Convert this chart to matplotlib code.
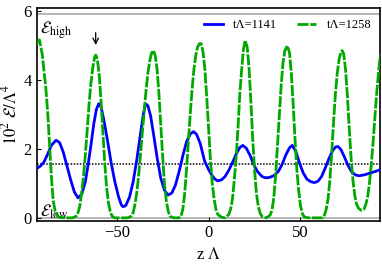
import matplotlib
matplotlib.use('Agg')
import matplotlib.pyplot as plt

plt.rcParams['font.family'] = ['Liberation Serif', 'DejaVu Serif']
plt.rcParams['mathtext.fontset'] = 'stix'

# energy density profile at tΛ=1141 (solid blue)
z_1141 = [-93.5, -91.5, -89.5, -87.5, -85.5, -83, -81, -79, -77, -75, -73, -71,
          -69, -67, -65.5, -64, -62.5, -61, -59.7, -58.5, -57, -55, -53, -51, -49,
          -47.5, -46.5, -45, -43, -41, -39, -37, -35.5, -34.5, -33.8, -33, -31.5,
          -30, -28, -26, -24, -22, -20, -18, -16, -14, -12, -10, -8.2, -6.5, -4.5,
          -2.2, 0, 2, 3.5, 5, 7, 9, 11, 13, 15, 17, 18.6, 20.5, 22.5, 24.5, 26.5,
          29, 31, 33, 35.5, 38, 40, 42, 44, 45.5, 47.5, 49.5, 51.5, 53.5, 55.5,
          57.6, 59.5, 61.5, 63.5, 65.5, 67.5, 69, 70.3, 72, 74, 76, 78, 80, 82,
          85, 88, 91, 93.5]
e_1141 = [1.43, 1.50, 1.62, 1.85, 2.10, 2.25, 2.18, 1.90, 1.50, 1.10, 0.75, 0.58,
          0.68, 1.05, 1.55, 2.10, 2.70, 3.15, 3.31, 3.22, 2.85, 2.25, 1.60, 1.05, 0.62,
          0.38, 0.32, 0.36, 0.60, 1.05, 1.70, 2.45, 3.00, 3.25, 3.29, 3.25, 2.95,
          2.45, 1.75, 1.15, 0.80, 0.66, 0.72, 0.95, 1.35, 1.80, 2.20, 2.43, 2.50, 2.42, 2.15,
          1.65, 1.40, 1.22, 1.12, 1.07, 1.10, 1.20, 1.38, 1.60, 1.85, 2.04, 2.10, 2.02, 1.82, 1.55, 1.35,
          1.20, 1.16, 1.17, 1.22, 1.35, 1.55, 1.82, 2.03, 2.10, 1.92, 1.58, 1.30, 1.12, 1.05,
          1.02, 1.06, 1.20, 1.45, 1.72, 1.95, 2.05, 2.07, 1.98, 1.75, 1.50, 1.32, 1.24, 1.22,
          1.25, 1.30, 1.35, 1.40]

# energy density profile at tΛ=1258 (dashed green)
z_1258 = [-93.5, -92, -90.5, -89.5, -88.5, -87.5, -86.5, -85.5, -84.5, -83.5, -82.5, -81,
          -78, -74, -72, -71, -70, -69, -68, -67, -66, -65, -64, -63, -62, -61.4,
          -60.5, -59.5, -58.5, -57.5, -56.5, -55.5, -54.5, -53.5, -52.5, -51,
          -44, -42, -41, -40, -39, -38, -37, -36, -35, -34, -33, -32, -31, -30,
          -29, -28, -27, -26, -25, -24, -23, -22, -21, -19, -16, -15, -14, -13,
          -12, -11, -10, -9, -8, -7, -6, -5, -4, -3, -2, -1, 0, 1, 2, 3, 4, 5,
          7, 9, 11, 12, 13, 14, 15, 16, 17, 18, 19, 19.9, 21, 22, 23, 24, 25, 26,
          27, 28, 29, 31.5, 33.5, 34.5, 35.5, 36.5, 37.5, 38.5, 39.5, 40.5, 41.5,
          42.8, 44, 45, 46, 47, 48, 49, 50, 51, 52, 54, 62, 63, 64, 65, 66, 67,
          68, 69, 70, 71, 72, 72.7, 73.5, 74.5, 75.5, 76.5, 77.5, 78.5, 79.5,
          80.5, 81.5, 83, 84.5, 85.5, 86.5, 87.5, 88.5, 89.5, 90.5, 91.5, 92.5, 93.5]
e_1258 = [5.05, 5.16, 4.75, 4.25, 3.75, 3.05, 2.10, 1.20, 0.50, 0.20, 0.07, 0.01,
          0.0, 0.0, 0.05, 0.15, 0.35, 0.75, 1.20, 1.85, 2.55, 3.30, 3.90, 4.35, 4.65, 4.72,
          4.60, 4.15, 3.40, 2.50, 1.60, 0.90, 0.45, 0.18, 0.05, 0.0,
          0.0, 0.05, 0.15, 0.40, 0.75, 1.25, 1.85, 2.50, 3.10, 3.70, 4.20, 4.55, 4.78, 4.85,
          4.70, 4.30, 3.60, 2.70, 1.80, 1.00, 0.50, 0.20, 0.05, 0.0, 0.0, 0.05, 0.25, 0.70,
          1.40, 2.20, 3.00, 3.70, 4.30, 4.70, 4.95, 5.05, 5.05, 4.80, 4.30, 3.50, 2.60, 1.70, 1.00, 0.55, 0.25, 0.10,
          0.02, 0.0, 0.10, 0.25, 0.55, 1.10, 1.75, 2.60, 3.60, 4.30, 4.90, 5.14, 4.95, 4.35, 3.40, 2.30, 1.40, 0.72,
          0.35, 0.14, 0.04, 0.0, 0.08, 0.22, 0.60, 1.25, 2.10, 3.00, 3.85, 4.50, 4.85,
          4.99, 4.80, 4.20, 3.30, 2.30, 1.40, 0.80, 0.35, 0.12, 0.03, 0.0, 0.0, 0.08, 0.25, 0.55, 1.10, 1.90,
          2.80, 3.60, 4.20, 4.60, 4.80, 4.85, 4.75, 4.30, 3.55, 2.60, 1.75, 1.10, 0.65,
          0.40, 0.28, 0.22, 0.25, 0.38, 0.60, 1.00, 1.55, 2.20, 2.95, 3.65, 4.25, 4.75]

e_mean = 1.56
e_high = 5.9
e_low = 0.0
arrow_z = -61.4

fig = plt.figure(figsize=(3.82, 2.71), dpi=100)
ax = fig.add_axes([0.096, 0.186, 0.9, 0.784])

ax.axhline(e_high, color='#b0b0b0', lw=1.3, zorder=1)
ax.axhline(e_low, color='#b0b0b0', lw=1.3, zorder=1)
ax.axhline(e_mean, color='black', lw=1.1, ls=(0, (1.0, 1.0)), zorder=2)

ax.plot(z_1141, e_1141, color='#0000ff', lw=2.0, label='t\u039b=1141', zorder=3)
ax.plot(z_1258, e_1258, color='#00a800', lw=2.0, ls=(0, (4, 0.6)),
        label='t\u039b=1258', zorder=4)

ax.annotate('', xy=(arrow_z, 4.93), xytext=(arrow_z, 5.45),
            arrowprops=dict(arrowstyle='->', color='black', lw=0.9))

ax.text(-91.5, 5.35, r'$\mathcal{E}_{\rm high}$', fontsize=12)
ax.text(-91.5, 0.05, r'$\mathcal{E}_{\rm low}$', fontsize=12)

ax.set_xlim(-93.5, 93.5)
ax.set_ylim(-0.08, 6.08)
ax.set_xticks([-50, 0, 50])
ax.set_xticklabels(['\u221250', '0', '50'])
ax.set_yticks([0, 2, 4, 6])
ax.tick_params(direction='in', length=3, labelsize=12, top=False, right=False)
ax.set_xlabel(r'z $\Lambda$', fontsize=12)
ax.set_ylabel(r'$10^2\ \mathcal{E}/\Lambda^4$', fontsize=12, labelpad=2)
for s in ax.spines.values():
    s.set_linewidth(1.2)

ax.legend(loc='upper right', bbox_to_anchor=(0.988, 0.972), ncol=2, frameon=False,
          fontsize=9, handlelength=1.5, handletextpad=0.85, columnspacing=1.6,
          borderaxespad=0)

plt.savefig('out.png', dpi=100)
